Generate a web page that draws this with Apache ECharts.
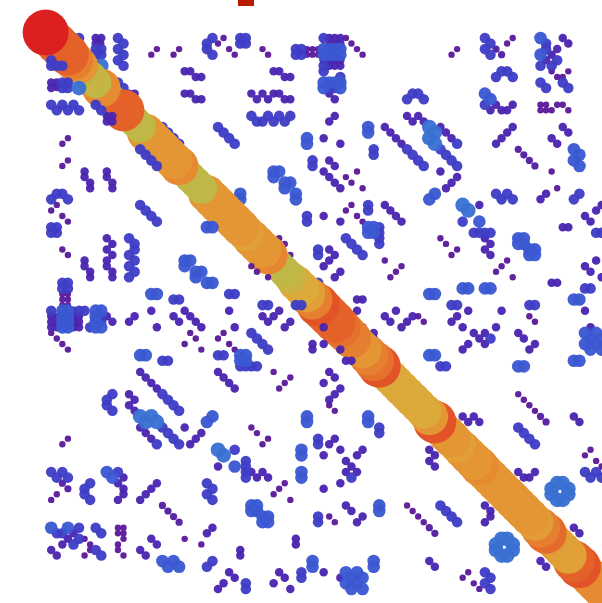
<!DOCTYPE html>
<html>
<head>
<meta charset="utf-8">
<style>
  html, body { margin: 0; padding: 0; background: #fff; }
  #chart { width: 602px; height: 603px; }
</style>
<script src="https://cdn.jsdelivr.net/npm/echarts@6/dist/echarts.min.js"></script>
</head>
<body>
<div id="chart"></div>
<script>
// upper triangle of the matrix, [col, row], grouped by value. the lower triangle is its mirror
const cells1 = [[54,1],[55,2],[51,2],[52,2],[47,3],[48,3],[49,3],[56,3],[47,4],[48,4],[49,4],[57,4],[19,4],[20,3],[23,4],[24,3],
  [31,2],[32,1],[33,3],[34,4],[39,3],[40,4],[10,2],[73,4],[74,3],[83,2],[84,1],[91,7],[94,7],[92,8],[93,8],
  [89,13],[90,13],[89,14],[90,14],[91,14],[92,13],[93,13],[94,14],[54,26],[55,27],[56,25],[57,28],[91,25],[92,28],
  [54,32],[55,31],[56,33],[57,34],[71,37],[72,38],[74,39],[73,40],[61,41],[64,42],[63,43],[62,44],[83,41],[82,42],[81,43],[84,44],
  [42,37],[43,38],[44,40],[67,51],[68,52],[87,51],[88,52],[85,65],[86,66],[87,67],[88,68],[98,75],[97,76],[99,77],[100,78]];
const cells1b = [[81,3],[82,4],[85,21],[86,22],[87,23],[88,24],[89,69],[90,70]];
const cells2 = [[51,1],[52,1],[53,1],[53,2],[9,1],[10,1],[9,2],[25,7],[26,7],[27,8],[28,8],[25,11],[26,11],[27,12],[28,12],
  [41,7],[42,7],[43,8],[44,8],[37,11],[38,12],[39,11],[40,12],[41,11],[42,11],[43,12],[44,12],[15,11],[16,11],[15,12],[16,12],
  [50,5],[51,5],[52,5],[53,5],[51,6],[52,6],[53,6],[51,11],[52,12],[52,15],[51,16],[50,19],[53,20],[51,23],[52,24],
  [50,25],[51,26],[52,27],[53,28],[61,17],[62,18],[63,19],[64,20],[65,15],[66,16],[67,15],[68,16],[71,17],[72,18],[73,19],
  [71,25],[72,28],[73,27],[74,26],[81,13],[80,14],[82,14],[83,14],[84,13],[92,3],[93,1],[94,2],[91,4],[90,5],
  [84,17],[83,18],[82,19],[81,20],[93,17],[94,18],[91,19],[92,20],[90,29],[89,30],[50,33],[53,34],[61,31],[62,32],[63,33],[64,34],
  [51,39],[52,40],[51,41],[50,42],[53,43],[52,44],[78,31],[79,37],[80,38],[79,39],[80,40],[93,35],[94,35],
  [97,33],[98,34],[99,32],[100,31],[99,41],[97,42],[98,43],[100,44],[91,45],[92,45],[56,48],[57,48],[56,50],
  [61,51],[62,52],[63,50],[64,53],[65,52],[66,51],[53,50],[57,53],[59,54],[59,55],[76,50],[82,50],[74,51],[73,52],[75,53],
  [77,54],[78,55],[79,54],[79,56],[76,56],[75,57],[81,53],[85,54],[86,55],[88,56],[87,57],[98,53],[97,50],
  [75,69],[77,69],[76,70],[78,70],[95,69],[96,70],[85,79],[86,80],[87,80],[88,79],[95,89],[96,90]];
const cells3 = [[6,1],[9,3],[9,4],[10,3],[10,4],[13,1],[14,2],[13,3],[14,4],[13,5],[14,6],[5,1],[6,2],[6,3],[13,9],[14,10],
  [29,2],[30,1],[29,3],[30,4],[35,1],[36,1],[35,2],[36,2],[37,15],[38,16],[39,16],[40,15],[41,16],[42,15],[43,16],[44,15],
  [31,17],[32,18],[33,19],[34,20],[21,17],[22,18],[23,19],[24,20],[50,1],[50,6],[50,7],[53,8],[45,3],[46,3],[45,4],[46,4],
  [51,10],[52,10],[65,12],[66,11],[67,11],[68,12],[59,21],[59,22],[48,23],[48,24],[65,21],[66,22],[67,23],[68,24],
  [71,21],[72,22],[73,23],[74,24],[74,20],[82,7],[83,7],[81,8],[84,8],[79,1],[80,2],[79,3],[80,4],[79,13],
  [90,2],[90,3],[92,5],[91,6],[89,6],[89,9],[90,10],[93,9],[94,10],[81,29],[82,30],[83,29],[84,30],[96,29],[95,30],
  [58,31],[58,32],[47,33],[47,34],[60,35],[60,36],[60,37],[60,38],[54,37],[55,38],[56,39],[57,40],[49,39],[49,40],[49,45],[49,46],
  [75,34],[77,36],[78,36],[79,36],[80,36],[99,36],[100,36],[97,46],[98,46],[73,49],[74,49],[87,49],[88,49],[80,55],
  [71,60],[72,60],[85,71],[86,72],[87,73],[88,74],[97,79],[98,80],[99,79],[100,80]];
const cells4 = [[89,1],[89,4],[50,3],[51,3],[52,3],[53,3],[50,4],[51,4],[52,4],[53,4],[50,9],[51,9],[52,9],[53,9],[50,10],[53,10],
  [47,19],[47,20],[58,17],[58,18],[79,11],[80,12],[95,21],[96,22],[95,23],[96,24],
  [41,25],[42,25],[41,26],[43,27],[44,27],[43,28],[45,29],[45,30],[35,29],[35,30],[69,30],[70,29],[78,34],
  [58,35],[58,36],[59,35],[59,36],[85,37],[86,37],[85,38],[86,38],[87,39],[88,39],[87,40],[88,40],
  [69,47],[70,47],[75,46],[76,46],[79,46],[80,46],[95,48],[96,48],[97,54],[98,55],[99,54],[97,56],[98,57],[99,56],[100,55],[100,57],
  [95,59],[96,59],[85,60],[86,60],[69,58],[70,58]];
const cells5 = [[10,6],[76,32],[75,31],[69,17],[70,18],[69,19],[70,20],[91,82],[92,81],[93,81],[94,82],[91,83],[92,84],[93,84],[94,83]];

// diagonal values, index 0 to 100
const diagValues = [20,18,18,18,18,17,16,12,13.5,13,16.5,11,11.5,11,18,13,13,13,16,16,
  16,16,16,16,16.5,13,13,13,13,16,16,16,16,16,16,16,15.5,16,16,16,
  16.7,13,13,13,13.5,15,15,15.5,17,18.5,18,18,18,17.5,17,17,16,16,17,17.5,
  18.5,15,15,15,15,15,15,15,15,16,18.5,16,16,16,15.5,16,16,16,16.5,16,
  16,16,16,16,16,16,16,16,15.7,17,17.7,15.5,15.5,15.5,15.5,18,18.5,16.5,16.5,16.5,16.5];
// draw order of the diagonal: high index first, except around 14 which sits over 11 to 13
const diagLate = [13,12,11,14];

const valueColors = ["#5b1a9a","#4a25b0","#3f3dc6","#3b58d2","#3a70d2","#3f86c0","#4f98a8","#66a690","#80ad78","#98b264",
  "#b8b64c","#bcb848","#c0b846","#d0b03e","#dcaa3a","#e59634","#e67f30","#e4622a","#e24426","#dc2020"];

const groups = [[1, cells1], [1.4, cells1b], [2, cells2], [3, cells3], [4, cells4], [5, cells5]];
const upper = [];
const lower = [];
groups.forEach(([value, cells]) => {
  cells.forEach(([col, row]) => {
    upper.push([col, row, value]);
    lower.push([row, col, value]);
  });
});

const diagonal = [];
for (let i = diagValues.length - 1; i > 14; i--) {
  diagonal.push([i, i, diagValues[i]]);
}
diagLate.forEach((i) => diagonal.push([i, i, diagValues[i]]));
for (let i = 10; i >= 0; i--) {
  diagonal.push([i, i, diagValues[i]]);
}

const myChart = echarts.init(document.getElementById("chart"));
const makeSeries = (data, z, opacity) => ({
  type: "scatter",
  data: data,
  z: z,
  itemStyle: { opacity: opacity },
  silent: true,
});

myChart.setOption({
  animation: false,
  grid: { left: 0, right: 0, top: 0, bottom: 0 },
  xAxis: { type: "value", show: false, min: -8.212, max: 100.06 },
  yAxis: { type: "value", show: false, inverse: true, min: -5.822, max: 102.53 },
  visualMap: {
    show: false,
    type: "continuous",
    min: 1,
    max: 20,
    dimension: 2,
    inRange: { color: valueColors, symbolSize: [6.4, 46] },
  },
  graphic: [
    { type: "rect", left: 238, top: 0, shape: { width: 16, height: 6 }, style: { fill: "#b81c00" } },
  ],
  series: [makeSeries(upper, 1, 0.96), makeSeries(diagonal, 2, 1), makeSeries(lower, 3, 0.96)],
});
</script>
</body>
</html>
